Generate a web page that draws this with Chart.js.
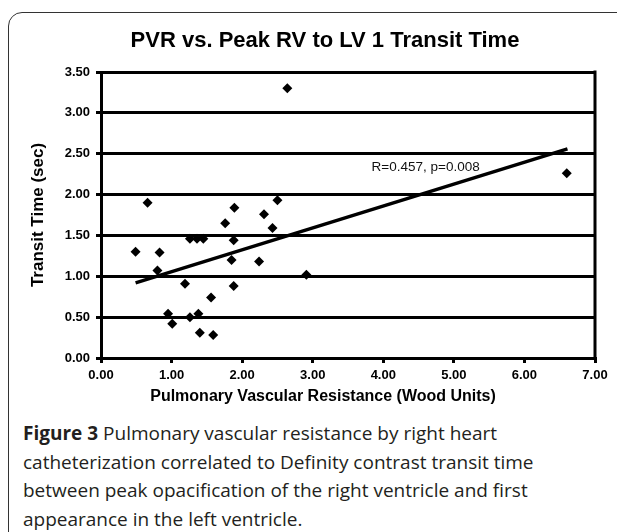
<!DOCTYPE html>
<html>
<head>
<meta charset="utf-8">
<script src="https://cdn.jsdelivr.net/npm/chart.js@4.4.1/dist/chart.umd.min.js"></script>
<style>
  html, body { margin: 0; padding: 0; background: #fff; }
  body { width: 617px; height: 532px; overflow: hidden; position: relative; }
  #frame {
    position: absolute; left: 8px; top: 12px; width: 640px; height: 560px;
    border: 1.5px solid #333; border-radius: 14px; box-sizing: border-box;
  }
  #wrap { position: absolute; left: 0; top: 0; width: 617px; height: 405px; }
  #caption {
    position: absolute; left: 23px; top: 419px; width: 594px;
    font-family: "Open Sans", "Noto Sans", sans-serif; font-size: 19px; line-height: 28.5px;
    color: #231f20; white-space: nowrap;
  }
  #caption b { font-weight: 700; }
</style>
</head>
<body>
<div id="frame"></div>
<div id="wrap"><canvas id="chart"></canvas></div>
<div id="caption"><b>Figure 3</b> Pulmonary vascular resistance by right heart<br>catheterization correlated to Definity contrast transit time<br>between peak opacification of the right ventricle and first<br>appearance in the left ventricle.</div>
<script>
// Datos: PVR (Wood Units) vs. tiempo de tránsito (sec)
const pvr = [2.64, 0.66, 0.49, 0.83, 0.80, 0.95, 1.01, 1.19, 1.26, 1.36, 1.45, 1.26, 1.38, 1.40,
             1.56, 1.59, 1.76, 1.89, 1.88, 1.85, 1.88, 2.31, 2.24, 2.43, 2.50, 2.91, 6.60];
const transitTime = [3.30, 1.90, 1.30, 1.29, 1.07, 0.54, 0.42, 0.91, 1.46, 1.46, 1.46, 0.50, 0.54, 0.31,
                     0.74, 0.28, 1.65, 1.84, 1.44, 1.20, 0.88, 1.76, 1.18, 1.59, 1.93, 1.02, 2.26];

// Línea de tendencia (extremos)
const trendX = [0.49, 6.61];
const trendY = [0.92, 2.56];

// Etiqueta de correlación
const corrText = "R=0.457, p=0.008";
const corrX = 4.6;
const corrY = 2.33;

const xTicks = [0, 1, 2, 3, 4, 5, 6, 7];
const yTicks = [0, 0.5, 1, 1.5, 2, 2.5, 3, 3.5];

const titulo = 'PVR vs. Peak RV to LV 1 Transit Time';
const tituloX = 'Pulmonary Vascular Resistance (Wood Units)';
const tituloY = 'Transit Time (sec)';

const puntos = pvr.map((x, i) => ({ x: x, y: transitTime[i] }));
const tendencia = trendX.map((x, i) => ({ x: x, y: trendY[i] }));

const fuente = '"Liberation Sans", Arial, sans-serif';

// Plugin: marco derecho, títulos y texto de correlación
const extras = {
  id: 'extras',
  afterDatasetsDraw(chart) {
    const ctx = chart.ctx;
    const area = chart.chartArea;
    ctx.save();
    ctx.strokeStyle = '#000';
    ctx.lineWidth = 3;
    ctx.beginPath();
    ctx.moveTo(area.right, area.top - 1.5);
    ctx.lineTo(area.right, area.bottom);
    ctx.stroke();

    ctx.fillStyle = '#000';
    ctx.textAlign = 'center';
    ctx.textBaseline = 'middle';
    ctx.font = 'bold 22px ' + fuente;
    ctx.fillText(titulo, 325, 41);
    ctx.font = 'bold 16px ' + fuente;
    ctx.fillText(tituloX, 323, 397);

    ctx.fillStyle = '#111';
    ctx.font = '13.5px ' + fuente;
    ctx.fillText(corrText, chart.scales.x.getPixelForValue(corrX), chart.scales.y.getPixelForValue(corrY));
    ctx.restore();
  }
};

const ctx = document.getElementById('chart').getContext('2d');
const chart = new Chart(ctx, {
  type: 'scatter',
  data: {
    datasets: [
      {
        label: 'Transit time',
        data: puntos,
        pointStyle: 'rectRot',
        pointRadius: 5,
        backgroundColor: '#000',
        borderColor: '#000',
        borderWidth: 0
      },
      {
        type: 'line',
        label: 'Tendencia',
        data: tendencia,
        borderColor: '#000',
        borderWidth: 3.5,
        pointRadius: 0,
        fill: false
      }
    ]
  },
  options: {
    responsive: true,
    maintainAspectRatio: false,
    animation: false,
    layout: { padding: { left: 0, right: 22, top: 72, bottom: 0 } },
    plugins: {
      legend: { display: false },
      tooltip: { enabled: false },
      title: { display: false }
    },
    scales: {
      x: {
        type: 'linear',
        min: 0,
        max: 7,
        afterBuildTicks(scale) { scale.ticks = xTicks.map(v => ({ value: v })); },
        afterFit(scale) { scale.height = 47; },
        grid: { drawOnChartArea: false, drawTicks: true, tickLength: 5, color: '#000', lineWidth: 3 },
        border: { display: true, color: '#000', width: 3 },
        ticks: {
          color: '#000',
          padding: 5,
          font: { family: fuente, size: 13, weight: 'bold' },
          callback: v => v.toFixed(2)
        }
      },
      y: {
        type: 'linear',
        min: 0,
        max: 3.5,
        afterBuildTicks(scale) { scale.ticks = yTicks.map(v => ({ value: v })); },
        afterFit(scale) { scale.width = 101; },
        grid: { drawOnChartArea: true, drawTicks: true, tickLength: 5, color: '#000', lineWidth: 3 },
        border: { display: true, color: '#000', width: 3 },
        ticks: {
          color: '#000',
          padding: 6,
          font: { family: fuente, size: 13, weight: 'bold' },
          callback: v => v.toFixed(2)
        },
        title: {
          display: true,
          text: tituloY,
          color: '#000',
          font: { family: fuente, size: 17, weight: 'bold' },
          padding: { top: 28, bottom: 0 }
        }
      }
    }
  },
  plugins: [extras]
});
</script>
</body>
</html>
